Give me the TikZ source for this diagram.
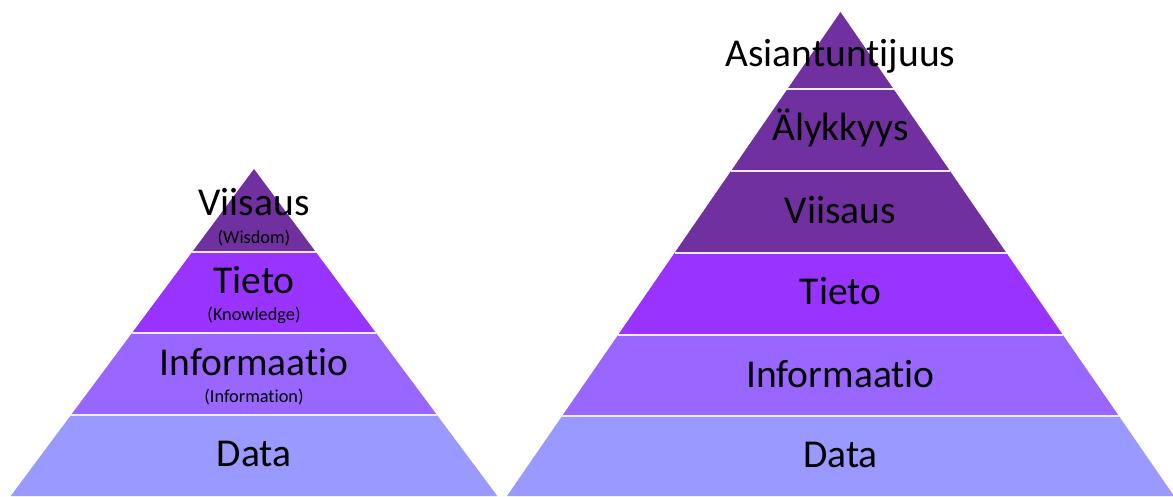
\documentclass[tikz,border=0pt]{standalone}
\usepackage{fontspec}
\setmainfont{Carlito}[Ligatures={NoCommon,NoRequired,NoContextual}]
\begin{document}
\begin{tikzpicture}[x=1pt,y=-1pt,
  bandtop/.style={fill={rgb,255:red,112;green,48;blue,160}},
  bandknow/.style={fill={rgb,255:red,153;green,51;blue,255}},
  bandinfo/.style={fill={rgb,255:red,153;green,102;blue,255}},
  banddata/.style={fill={rgb,255:red,153;green,153;blue,255}},
  sepline/.style={draw={rgb,255:red,240;green,234;blue,255},line width=1.6pt},
  bigtxt/.style={anchor=base,inner sep=0pt,font=\fontsize{39.5}{45}\selectfont},
  smalltxt/.style={anchor=base,inner sep=0pt,font=\fontsize{18.3}{21}\selectfont}]
\useasboundingbox (0,0) rectangle (1173,496);

% ---- left pyramid (apex 254,169) ----
\fill[banddata] (10.7,496) -- (497.3,496) -- (437,415) -- (71,415) -- cycle;
\fill[bandinfo] (71,415) -- (437,415) -- (376,333) -- (132,333) -- cycle;
\fill[bandknow] (132,333) -- (376,333) -- (315.8,252) -- (192.2,252) -- cycle;
\fill[bandtop] (192.2,252) -- (315.8,252) -- (254,169) -- cycle;
\draw[sepline] (71,415) -- (437,415);
\draw[sepline] (132,333) -- (376,333);
\draw[sepline] (192.2,252) -- (315.8,252);

\node[bigtxt] (lwis) at (254,215) {Viisaus};
\node[smalltxt] (lwisen) at (254,243) {(Wisdom)};
\node[bigtxt] (lkno) at (254,293) {Tieto};
\node[smalltxt] (lknoen) at (254,320) {(Knowledge)};
\node[bigtxt] (linf) at (254,375) {Informaatio};
\node[smalltxt] (linfen) at (254,402) {(Information)};
\node[bigtxt] (ldat) at (254,466) {Data};

% ---- right pyramid (apex 840.5,12) ----
\fill[banddata] (507,496) -- (1174,496) -- (1118.9,416) -- (562.1,416) -- cycle;
\fill[bandinfo] (562.1,416) -- (1118.9,416) -- (1063,335) -- (618,335) -- cycle;
\fill[bandknow] (618,335) -- (1063,335) -- (1006.5,253) -- (674.5,253) -- cycle;
\fill[bandtop] (674.5,253) -- (1006.5,253) -- (840.5,12) -- cycle;
\draw[sepline] (562.1,416) -- (1118.9,416);
\draw[sepline] (618,335) -- (1063,335);
\draw[sepline] (674.5,253) -- (1006.5,253);
\draw[sepline] (730.9,171) -- (950.1,171);
\draw[sepline] (787.4,89) -- (893.6,89);

\node[bigtxt] (rexp) at (840.5,66) {Asiantuntijuus};
\node[bigtxt] (rint) at (840.5,140) {Älykkyys};
\node[bigtxt] (rwis) at (840.5,223) {Viisaus};
\node[bigtxt] (rkno) at (840.5,304) {Tieto};
\node[bigtxt] (rinf) at (840.5,387) {Informaatio};
\node[bigtxt] (rdat) at (840.5,467) {Data};
\end{tikzpicture}
\end{document}
